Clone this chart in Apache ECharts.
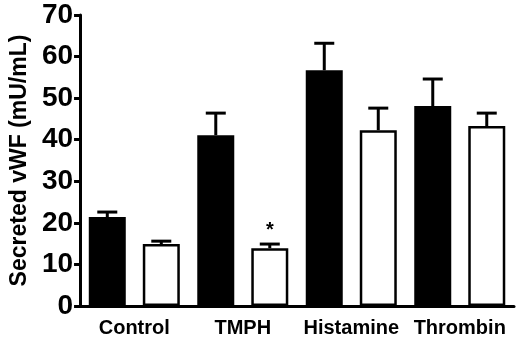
<!DOCTYPE html>
<html>
<head>
<meta charset="utf-8">
<script src="https://cdn.jsdelivr.net/npm/echarts@6/dist/echarts.min.js"></script>
<style>
  html, body { margin: 0; padding: 0; background: #fff; }
  #chart { width: 520px; height: 338px; }
</style>
</head>
<body>
<div id="chart"></div>
<script>
// values
const categories = ["Control", "TMPH", "Histamine", "Thrombin"];
const blackMean = [21.4, 41.1, 56.7, 48.1];
const blackErr = [1.2, 5.3, 6.5, 6.5];
const whiteMean = [14.9, 13.9, 42.3, 43.3];
const whiteErr = [0.7, 1.0, 5.3, 3.1];
const sigMarks = ["", "*", "", ""];
const yTicks = [0, 10, 20, 30, 40, 50, 60, 70];

const FONT = "'Liberation Sans', Arial, sans-serif";
const BAR_W = 37;
const BAR_GAP = 17;

// error bar (upper only) drawn over a bar, shifted to its slot in the group
const makeErrorSeries = (means, errs, side) => ({
  type: "custom",
  z: 5,
  data: means.map((m, i) => [i, m, errs[i], side < 0 ? "" : sigMarks[i]]),
  encode: { x: 0, y: 1 },
  renderItem: (params, api) => {
    const base = api.coord([api.value(0), api.value(1)]);
    const top = api.coord([api.value(0), api.value(1) + api.value(2)]);
    const x = base[0] + side * (BAR_W + BAR_GAP) / 2;
    const style = { stroke: "#000", lineWidth: 3 };
    const children = [
      { type: "line", shape: { x1: x, y1: base[1], x2: x, y2: top[1] }, style },
      { type: "line", shape: { x1: x - 10, y1: top[1], x2: x + 10, y2: top[1] }, style },
    ];
    const mark = api.value(3);
    if (mark) {
      children.push({
        type: "text",
        style: {
          text: mark, x: x, y: top[1] - 4,
          align: "center", verticalAlign: "bottom",
          font: "bold 20px " + FONT, fill: "#000",
        },
      });
    }
    return { type: "group", children };
  },
});

const chart = echarts.init(document.getElementById("chart"), null, { renderer: "canvas" });

chart.setOption({
  animation: false,
  backgroundColor: "#fff",
  grid: { left: 72, right: 6, top: 15, bottom: 32 },
  xAxis: {
    type: "category",
    data: categories,
    axisLine: { lineStyle: { color: "#000", width: 3 } },
    axisTick: { show: false },
    axisLabel: {
      interval: 0,
      color: "#000", fontFamily: FONT, fontWeight: "bold", fontSize: 20, margin: 12,
    },
  },
  yAxis: {
    type: "value",
    min: yTicks[0],
    max: yTicks[yTicks.length - 1],
    interval: 10,
    name: "Secreted vWF (mU/mL)",
    nameLocation: "middle",
    nameGap: 46,
    nameTextStyle: { color: "#000", fontFamily: FONT, fontWeight: "bold", fontSize: 23 },
    axisLine: { show: true, lineStyle: { color: "#000", width: 3 } },
    axisTick: { show: true, length: 6, lineStyle: { color: "#000", width: 3 } },
    axisLabel: {
      color: "#000", fontFamily: FONT, fontWeight: "bold", fontSize: 28, margin: 7,
    },
    splitLine: { show: false },
  },
  series: [
    {
      type: "bar",
      data: blackMean,
      barWidth: BAR_W,
      barGap: (BAR_GAP / BAR_W * 100).toFixed(0) + "%",
      itemStyle: { color: "#000" },
    },
    {
      type: "bar",
      data: whiteMean,
      barWidth: BAR_W,
      itemStyle: { color: "#fff", borderColor: "#000", borderWidth: 2.5 },
    },
    makeErrorSeries(blackMean, blackErr, -1),
    makeErrorSeries(whiteMean, whiteErr, 1),
  ],
});
</script>
</body>
</html>
